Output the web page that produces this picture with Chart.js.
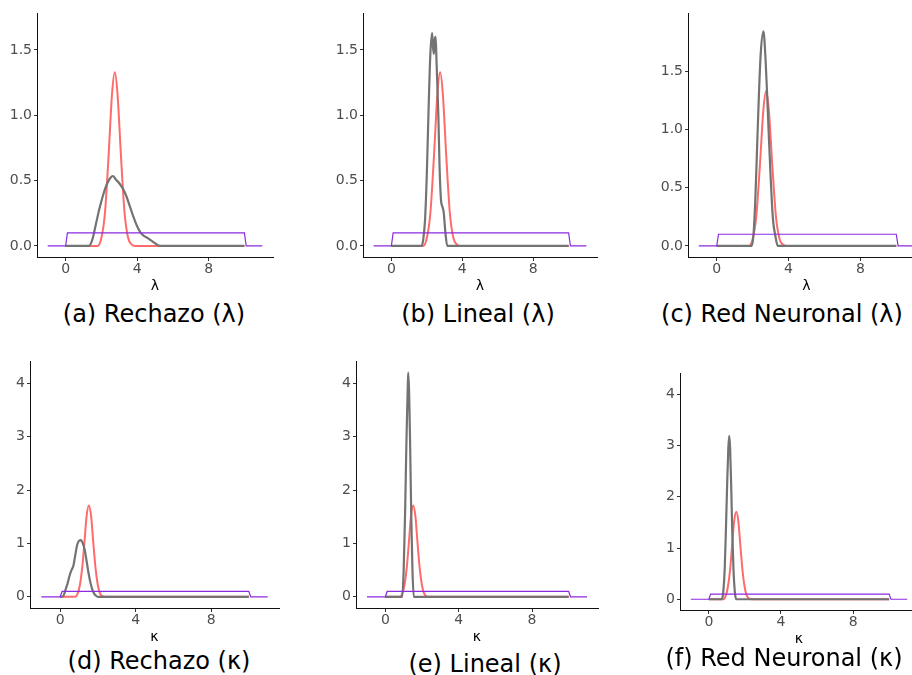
<!DOCTYPE html>
<html>
<head>
<meta charset="utf-8">
<script src="https://cdn.jsdelivr.net/npm/chart.js@4.4.1/dist/chart.umd.min.js"></script>
<style>
  html, body { margin: 0; padding: 0; width: 912px; height: 675px; overflow: hidden; background: #fff; }
  canvas { position: absolute; }
  .cap { position: absolute; width: 320px; height: 30px; line-height: 30px; text-align: center;
         font-family: "DejaVu Sans"; font-size: 24px; color: #000; white-space: nowrap; }
</style>
</head>
<body>
<script>
// ticks
const xTicks = [0, 4, 8];
const lamTicks = [0, 0.5, 1.0, 1.5];
const kapTicks = [0, 1, 2, 3, 4];

// uniform prior (same for every panel)
const priorX = [-1, 0, 0.1, 10, 10.1, 11];
const priorY = [0, 0, 0.1, 0.1, 0, 0];

// true posterior (red) for lambda and kappa
const redLamX = [0, 1.8, 2.0, 2.2, 2.4, 2.6, 2.75, 2.9, 3.1, 3.3, 3.5, 3.7, 3.9, 10];
const redLamY = [0, 0, 0.06, 0.25, 0.68, 1.17, 1.33, 1.17, 0.68, 0.25, 0.06, 0.01, 0, 0];
const redKapX = [0, 0.8, 0.94, 1.05, 1.17, 1.29, 1.40, 1.52, 1.64, 1.75, 1.87, 1.99, 2.1, 2.24, 2.4, 10];
const redKapY = [0, 0, 0.075, 0.23, 0.55, 1.04, 1.51, 1.71, 1.51, 1.04, 0.55, 0.23, 0.075, 0.01, 0, 0];

// ABC estimates (gray)
const rechLamX = [0, 1.3, 1.5, 1.7, 1.9, 2.1, 2.3, 2.5, 2.65, 2.8, 3.0, 3.2, 3.4, 3.6, 3.8, 4.0, 4.2, 4.4, 4.6, 4.8, 5.0, 5.3, 10];
const rechLamY = [0, 0, 0.05, 0.17, 0.29, 0.39, 0.47, 0.52, 0.535, 0.51, 0.48, 0.44, 0.38, 0.30, 0.22, 0.15, 0.10, 0.075, 0.06, 0.04, 0.02, 0, 0];
const linLamX = [0, 1.7, 1.8, 1.9, 2.0, 2.1, 2.2, 2.3, 2.35, 2.4, 2.45, 2.5, 2.55, 2.65, 2.72, 2.8, 2.88, 2.95, 3.05, 3.15, 10];
const linLamY = [0, 0, 0.05, 0.2, 0.55, 1.05, 1.47, 1.63, 1.52, 1.47, 1.58, 1.60, 1.4, 1.0, 0.6, 0.35, 0.30, 0.26, 0.1, 0, 0];
const redNLamX = [0, 1.95, 2.05, 2.15, 2.25, 2.35, 2.45, 2.6, 2.72, 2.82, 2.9, 3.0, 3.08, 3.15, 3.25, 3.4, 10];
const redNLamY = [0, 0, 0.1, 0.4, 0.85, 1.3, 1.65, 1.84, 1.6, 1.25, 0.95, 0.6, 0.35, 0.2, 0.1, 0, 0];

const rechKapX = [0, 0.1, 0.2, 0.3, 0.4, 0.5, 0.6, 0.7, 0.8, 0.9, 1.0, 1.1, 1.2, 1.3, 1.4, 1.5, 1.6, 1.7, 1.8, 1.9, 2.0, 10];
const rechKapY = [0, 0, 0.04, 0.15, 0.26, 0.4, 0.5, 0.58, 0.78, 0.97, 1.05, 1.06, 1.0, 0.88, 0.67, 0.45, 0.27, 0.14, 0.06, 0.02, 0, 0];
const linKapX = [0, 0.92, 1.0, 1.08, 1.15, 1.22, 1.25, 1.3, 1.36, 1.42, 1.48, 1.55, 10];
const linKapY = [0, 0, 0.5, 1.6, 2.9, 3.9, 4.2, 3.8, 2.7, 1.4, 0.5, 0, 0];
const redNKapX = [0, 0.72, 0.8, 0.88, 0.95, 1.02, 1.08, 1.13, 1.18, 1.24, 1.3, 1.37, 1.44, 1.52, 10];
const redNKapY = [0, 0, 0.15, 0.6, 1.4, 2.3, 2.95, 3.19, 2.95, 2.2, 1.3, 0.55, 0.15, 0, 0];

const pts = (xs, ys) => xs.map((x, i) => ({ x: x, y: ys[i] }));

// panel boxes: plot area in page pixels
const panels = [
  { L: 37,  R: 273, T: 13,  B: 257, sym: 'λ', yMin: -0.085, yMax: 1.78,  yt: lamTicks, gx: rechLamX, gy: rechLamY, rx: redLamX, ry: redLamY, cap: '(a) Rechazo (λ)',      cx: 154, cy: 314 },
  { L: 363, R: 597, T: 13,  B: 257, sym: 'λ', yMin: -0.085, yMax: 1.78,  yt: lamTicks, gx: linLamX,  gy: linLamY,  rx: redLamX, ry: redLamY, cap: '(b) Lineal (λ)',       cx: 478, cy: 314 },
  { L: 688, R: 925, T: 13,  B: 257, sym: 'λ', yMin: -0.095, yMax: 1.995, yt: lamTicks, gx: redNLamX, gy: redNLamY, rx: redLamX, ry: redLamY, cap: '(c) Red Neuronal (λ)', cx: 782, cy: 314 },
  { L: 30,  R: 279, T: 361, B: 608, sym: 'κ', yMin: -0.21,  yMax: 4.41,  yt: kapTicks, gx: rechKapX, gy: rechKapY, rx: redKapX, ry: redKapY, cap: '(d) Rechazo (κ)',      cx: 159, cy: 661 },
  { L: 356, R: 598, T: 361, B: 608, sym: 'κ', yMin: -0.21,  yMax: 4.41,  yt: kapTicks, gx: linKapX,  gy: linKapY,  rx: redKapX, ry: redKapY, cap: '(e) Lineal (κ)',       cx: 485, cy: 664 },
  { L: 680, R: 918, T: 373, B: 610, sym: 'κ', yMin: -0.21,  yMax: 4.41,  yt: kapTicks, gx: redNKapX, gy: redNKapY, rx: redKapX, ry: redKapY, cap: '(f) Red Neuronal (κ)', cx: 784, cy: 658 }
];

const tickFont = { family: 'DejaVu Sans', size: 14 };

panels.forEach(p => {
  const cv = document.createElement('canvas');
  const w = p.R - p.L + 50, h = p.B - p.T + 48;
  cv.width = w; cv.height = h;
  cv.style.left = (p.L - 40) + 'px';
  cv.style.top = (p.T - 10) + 'px';
  cv.style.width = w + 'px';
  cv.style.height = h + 'px';
  document.body.appendChild(cv);

  new Chart(cv, {
    type: 'line',
    data: {
      datasets: [
        { data: pts(priorX, priorY), borderColor: '#8a2be2', borderWidth: 1.2, order: 0 },
        { data: pts(p.gx, p.gy), borderColor: '#737373', borderWidth: 2.2, order: 1, cubicInterpolationMode: 'monotone' },
        { data: pts(p.rx, p.ry), borderColor: 'rgba(255,90,90,0.9)', borderWidth: 2, order: 2, cubicInterpolationMode: 'monotone' }
      ]
    },
    options: {
      responsive: false,
      animation: false,
      devicePixelRatio: 1,
      layout: { padding: { top: 10, right: 10, left: 0, bottom: 0 } },
      elements: { point: { radius: 0 }, line: { fill: false } },
      plugins: { legend: { display: false }, tooltip: { enabled: false } },
      scales: {
        x: {
          type: 'linear', min: -1.6, max: 11.6,
          afterBuildTicks: a => { a.ticks = xTicks.map(v => ({ value: v })); },
          afterFit: s => { s.height = 38; },
          ticks: { font: tickFont, color: '#4d4d4d', padding: 0, maxRotation: 0 },
          grid: { drawOnChartArea: false, drawTicks: true, tickLength: 4, color: '#333' },
          border: { display: true, color: '#111', width: 1 },
          title: { display: true, text: p.sym, font: { family: 'DejaVu Sans', size: 14 }, color: '#000', padding: 0 }
        },
        y: {
          type: 'linear', min: p.yMin, max: p.yMax,
          afterBuildTicks: a => { a.ticks = p.yt.map(v => ({ value: v })); },
          afterFit: s => { s.width = 40; },
          ticks: {
            font: tickFont, color: '#4d4d4d', padding: 2,
            callback: v => p.sym === 'λ' ? v.toFixed(1) : String(v)
          },
          grid: { drawOnChartArea: false, drawTicks: true, tickLength: 3, color: '#333' },
          border: { display: true, color: '#111', width: 1 }
        }
      }
    }
  });

  const d = document.createElement('div');
  d.className = 'cap';
  d.textContent = p.cap;
  d.style.left = (p.cx - 160) + 'px';
  d.style.top = (p.cy - 15) + 'px';
  document.body.appendChild(d);
});
</script>
</body>
</html>
